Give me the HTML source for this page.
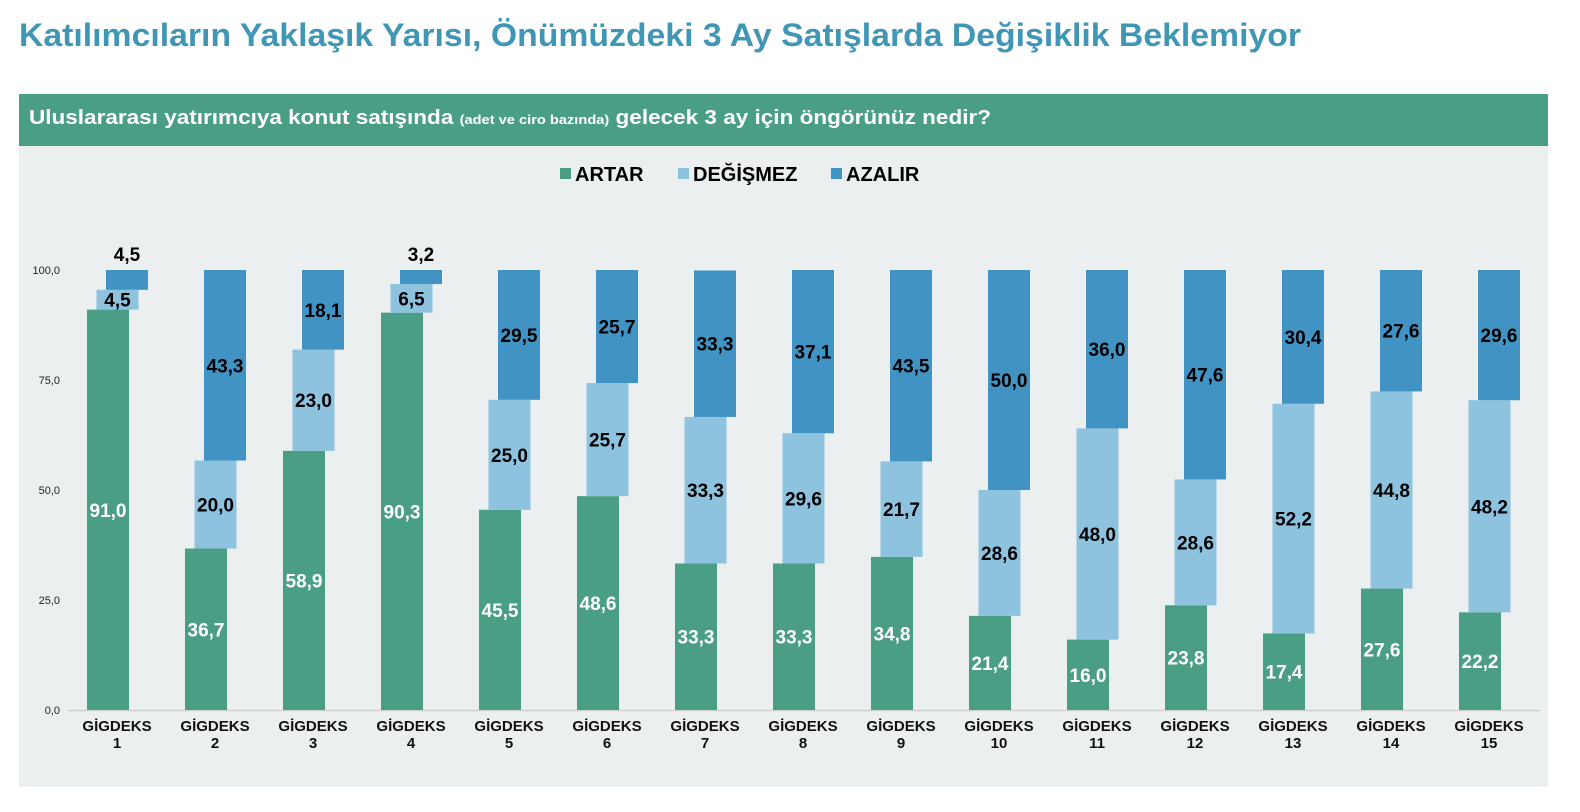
<!DOCTYPE html>
<html><head><meta charset="utf-8"><style>
html,body{margin:0;padding:0;background:#fff;}
svg{display:block;font-family:"Liberation Sans",sans-serif;}
</style></head><body>
<svg width="1580" height="812" viewBox="0 0 1580 812" xmlns="http://www.w3.org/2000/svg">
<rect x="0" y="0" width="1580" height="812" fill="#fff"/>
<text x="19" y="46" font-size="32" font-weight="bold" fill="#3f96b5" textLength="1282" lengthAdjust="spacingAndGlyphs">Katılımcıların Yaklaşık Yarısı, Önümüzdeki 3 Ay Satışlarda Değişiklik Beklemiyor</text>
<rect x="19" y="94" width="1529" height="52" fill="#4a9e85"/>
<text x="29" y="124" font-size="20" font-weight="bold" fill="#fff" textLength="962" lengthAdjust="spacingAndGlyphs">Uluslararası yatırımcıya konut satışında <tspan font-size="13">(adet ve ciro bazında)</tspan> gelecek 3 ay için öngörünüz nedir?</text>
<rect x="19" y="146" width="1529" height="641" fill="#eceff0"/>
<rect x="560" y="168" width="11" height="11" fill="#4a9e85"/>
<text x="575" y="181" font-size="20" font-weight="bold" fill="#000">ARTAR</text>
<rect x="678" y="168" width="11" height="11" fill="#8dc3de"/>
<text x="693" y="181" font-size="20" font-weight="bold" fill="#000">DEĞİŞMEZ</text>
<rect x="831" y="168" width="11" height="11" fill="#4193c4"/>
<text x="846" y="181" font-size="20" font-weight="bold" fill="#000">AZALIR</text>
<g font-size="11" fill="#222" text-anchor="end">
<text x="60" y="274">100,0</text><text x="60" y="384">75,0</text><text x="60" y="494">50,0</text><text x="60" y="604">25,0</text><text x="60" y="714">0,0</text>
</g>
<line x1="68" y1="710.5" x2="1540" y2="710.5" stroke="#d0d0d0" stroke-width="1.5"/>
<g id="bars"></g>
<script>
var G=[91,36.7,58.9,90.3,45.5,48.6,33.3,33.3,34.8,21.4,16.0,23.8,17.4,27.6,22.2];
var L=[4.5,20,23,6.5,25,25.7,33.3,29.6,21.7,28.6,48,28.6,52.2,44.8,48.2];
var D=[4.5,43.3,18.1,3.2,29.5,25.7,33.3,37.1,43.5,50,36,47.6,30.4,27.6,29.6];
var ns="http://www.w3.org/2000/svg",g=document.getElementById('bars');
function el(t,a,txt){var e=document.createElementNS(ns,t);for(var k in a)e.setAttribute(k,a[k]);if(txt!=null)e.textContent=txt;g.appendChild(e);return e;}
function Y(v){return 710-v*4.4;}
function f(v){return v.toFixed(1).replace('.',',');}
for(var i=0;i<15;i++){
 var x=87+i*98,w=42;
 var y0=Y(G[i]),y1=Y(G[i]+L[i]),y2=Y(G[i]+L[i]+D[i]);
 el('rect',{x:x,y:y0,width:w,height:710-y0,fill:'#4a9e85'});
 el('rect',{x:x+9.5,y:y1,width:w,height:y0-y1,fill:'#8dc3de'});
 el('rect',{x:x+19,y:y2,width:w,height:y1-y2,fill:'#4193c4'});
 var a={'font-size':19,'font-weight':'bold','text-anchor':'middle'};
 function T(cx,cy,c,s){var o={};for(var k in a)o[k]=a[k];o.x=cx;o.y=cy;o.fill=c;el('text',o,s);}
 T(x+21,(y0+710)/2+7,'#fff',f(G[i]));
 T(x+30.5,(y1+y0)/2+7,'#000',f(L[i]));
 if(D[i]<6) T(x+40,y2-9,'#000',f(D[i])); else T(x+40,(y2+y1)/2+7,'#000',f(D[i]));
 var lx=x+30;
 el('text',{x:lx,y:731,'font-size':15,'font-weight':'bold','text-anchor':'middle',fill:'#111'},'GİGDEKS');
 el('text',{x:lx,y:748,'font-size':15,'font-weight':'bold','text-anchor':'middle',fill:'#111'},String(i+1));
}
</script>
</svg>
</body></html>
